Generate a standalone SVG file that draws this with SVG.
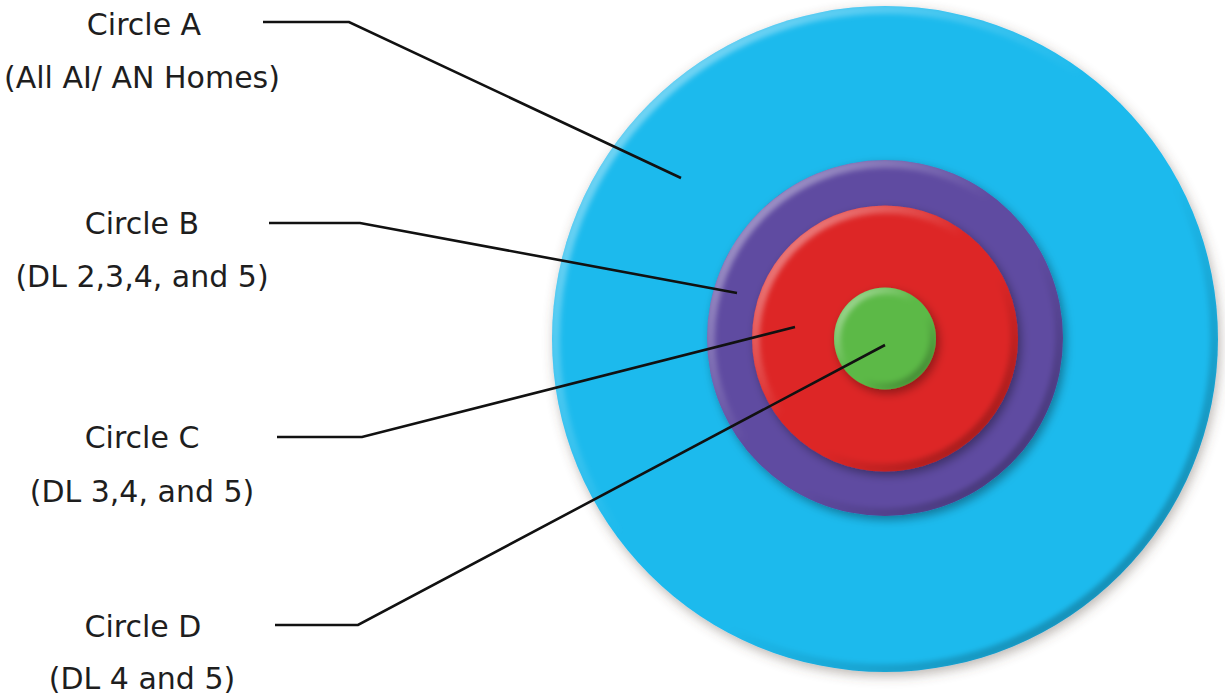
<svg xmlns="http://www.w3.org/2000/svg" width="1225" height="698" viewBox="0 0 1225 698">
  <style>
    .lbl { font-family: "DejaVu Sans", "Liberation Sans", sans-serif; font-size: 30px; fill: #1e1e1e; text-anchor: middle; }
    .conn { fill: none; stroke: #111; stroke-width: 2.6; stroke-linejoin: miter; }
    .bevel { fill: none; stroke: url(#bevelGrad); stroke-width: 10; filter: url(#soft); }
  </style>
  <defs>
    <filter id="shadow" x="-20%" y="-20%" width="140%" height="140%">
      <feDropShadow dx="3" dy="4" stdDeviation="5" flood-color="#000" flood-opacity="0.35"/>
    </filter>
    <filter id="shadowBig" x="-20%" y="-20%" width="140%" height="140%">
      <feDropShadow dx="2" dy="4" stdDeviation="6" flood-color="#5a4a40" flood-opacity="0.4"/>
    </filter>
    <filter id="soft" x="-10%" y="-10%" width="120%" height="120%">
      <feGaussianBlur stdDeviation="2.5"/>
    </filter>
    <linearGradient id="bevelGrad" x1="0" y1="0" x2="1" y2="1">
      <stop offset="0" stop-color="#fff" stop-opacity="0.55"/>
      <stop offset="0.45" stop-color="#fff" stop-opacity="0"/>
      <stop offset="0.6" stop-color="#000" stop-opacity="0"/>
      <stop offset="1" stop-color="#000" stop-opacity="0.35"/>
    </linearGradient>
    <clipPath id="clipA"><circle cx="885" cy="339" r="333"/></clipPath>
    <clipPath id="clipB"><circle cx="885" cy="338" r="178"/></clipPath>
    <clipPath id="clipC"><circle cx="885" cy="338.5" r="133"/></clipPath>
    <clipPath id="clipD"><circle cx="885" cy="338.5" r="51"/></clipPath>
  </defs>

  <rect width="1225" height="698" fill="#fff"/>

  <g id="circle-a">
    <circle cx="885" cy="339" r="333" fill="#1fbaed" filter="url(#shadowBig)"/>
    <g clip-path="url(#clipA)"><circle class="bevel" cx="885" cy="339" r="330"/></g>
    <text class="lbl" x="144" y="35">Circle A</text>
    <text class="lbl" x="142" y="88">(All AI/ AN Homes)</text>
  </g>

  <g id="circle-b">
    <circle cx="885" cy="338" r="178" fill="#5f4ba1" filter="url(#shadow)"/>
    <g clip-path="url(#clipB)"><circle class="bevel" cx="885" cy="338" r="175"/></g>
    <text class="lbl" x="142" y="234">Circle B</text>
    <text class="lbl" x="142" y="287">(DL 2,3,4, and 5)</text>
  </g>

  <g id="circle-c">
    <circle cx="885" cy="338.5" r="133" fill="#dd2626" filter="url(#shadow)"/>
    <g clip-path="url(#clipC)"><circle class="bevel" cx="885" cy="338.5" r="130"/></g>
    <text class="lbl" x="142" y="448">Circle C</text>
    <text class="lbl" x="142" y="502">(DL 3,4, and 5)</text>
  </g>

  <g id="circle-d">
    <circle cx="885" cy="338.5" r="51" fill="#5cb947" filter="url(#shadow)"/>
    <g clip-path="url(#clipD)"><circle class="bevel" cx="885" cy="338.5" r="48" style="stroke-width:8"/></g>
    <text class="lbl" x="143" y="637">Circle D</text>
    <text class="lbl" x="142" y="689">(DL 4 and 5)</text>
  </g>

  <g id="connectors">
    <polyline class="conn" points="263,22 349,22 681,178"/>
    <polyline class="conn" points="269,223 360,223 737,293"/>
    <polyline class="conn" points="277,437 362,437 795,327"/>
    <polyline class="conn" points="275,625 358,625 885,345"/>
  </g>
</svg>
